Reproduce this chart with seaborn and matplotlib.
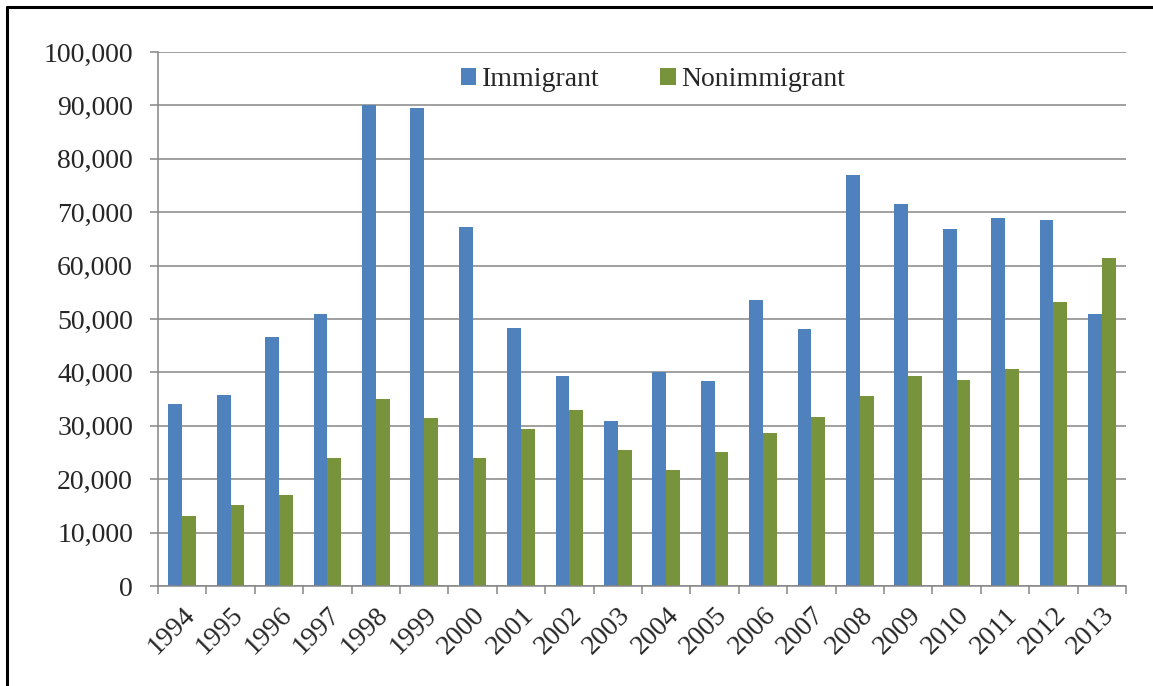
import matplotlib
matplotlib.use("Agg")
import matplotlib.pyplot as plt
from matplotlib.lines import Line2D
from matplotlib.ticker import FuncFormatter, FixedLocator
import numpy as np
import pandas as pd
import seaborn as sns

years = [str(y) for y in range(1994, 2014)]
immigrant = [34100, 35800, 46600, 51000, 90100, 89600, 67200, 48400, 39300, 30900,
             40100, 38400, 53600, 48200, 77000, 71500, 66900, 68900, 68600, 51000]
nonimmigrant = [13100, 15100, 17100, 24000, 35000, 31400, 24000, 29400, 32900, 25400,
                21700, 25100, 28600, 31700, 35500, 39300, 38600, 40600, 53100, 61400]

sns.set_theme(style="white")
plt.rcParams['font.family'] = ['Liberation Serif', 'DejaVu Serif']

df = pd.DataFrame({
    "year": years * 2,
    "value": immigrant + nonimmigrant,
    "kind": ["Immigrant"] * len(years) + ["Nonimmigrant"] * len(years),
})

fig = plt.figure(figsize=(11.53, 6.86), dpi=100)
ax = fig.add_axes([158 / 1153, 100 / 686, (1126 - 158) / 1153, (586 - 52) / 686])

sns.barplot(data=df, x="year", y="value", hue="kind",
            palette=["#4F81BD", "#77933C"], width=0.57, gap=0,
            saturation=1, linewidth=0, ax=ax, legend=True)

ax.set_ylim(0, 100000)
ax.set_xlim(-0.5, len(years) - 0.5)
ax.set_yticks(np.arange(0, 100001, 10000))
ax.yaxis.set_major_formatter(FuncFormatter(lambda v, p: f"{int(v):,}"))
ax.yaxis.grid(True, color="#868686", linewidth=1.1)
ax.set_axisbelow(True)
ax.set_xlabel("")
ax.set_ylabel("")

for side in ["top", "right"]:
    ax.spines[side].set_visible(False)
for side in ["left", "bottom"]:
    ax.spines[side].set_color("#868686")
    ax.spines[side].set_linewidth(1.1)

ax.tick_params(axis="y", which="major", length=6, width=1.1, color="#868686",
               labelsize=20, pad=12, left=True)
ax.tick_params(axis="x", which="major", length=0, labelsize=20, pad=12)
ax.xaxis.set_minor_locator(FixedLocator(np.arange(-0.5, len(years), 1)))
ax.tick_params(axis="x", which="minor", length=6, width=1.1, color="#868686", bottom=True)
for lbl in ax.get_xticklabels():
    lbl.set_rotation(45)
    lbl.set_ha("right")
    lbl.set_rotation_mode("anchor")

ax.legend(title=None, ncol=2, frameon=False, fontsize=20,
          loc="center", bbox_to_anchor=(653 / 1153, 1 - 80 / 686),
          bbox_transform=fig.transFigure,
          handlelength=0.55, handleheight=0.55, handletextpad=0.2,
          columnspacing=2.2)

# outer frame
fig.add_artist(Line2D([7 / 1153, 1.0], [1 - 7 / 686, 1 - 7 / 686],
                      transform=fig.transFigure, color="black", linewidth=2.2))
fig.add_artist(Line2D([7 / 1153, 7 / 1153], [0, 1 - 7 / 686],
                      transform=fig.transFigure, color="black", linewidth=2.2))

fig.savefig("out.png", dpi=100)
